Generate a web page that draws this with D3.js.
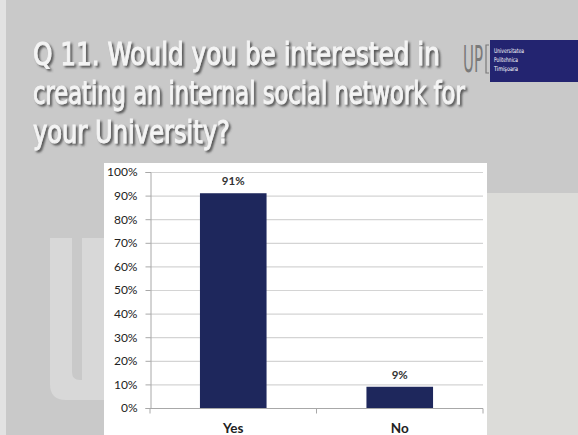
<!DOCTYPE html>
<html>
<head>
<meta charset="utf-8">
<script src="https://cdn.jsdelivr.net/npm/d3@7"></script>
<style>
  html, body { margin: 0; padding: 0; background: #ffffff; }
  svg { display: block; }
</style>
</head>
<body>
<svg id="slide" width="578" height="435"></svg>
<script>
// Survey answers
const categories = ["Yes", "No"];
const shares = [0.91, 0.09];
const valueLabels = ["91%", "9%"];
const tickValues = [0, 0.1, 0.2, 0.3, 0.4, 0.5, 0.6, 0.7, 0.8, 0.9, 1.0];
const titleLines = [
  "Q 11. Would you be interested in",
  "creating an internal social network for",
  "your University?"
];
const logoLines = ["Universitatea", "Politehnica", "Timişoara"];

const svg = d3.select("#slide");
const W = 578, H = 435;

// Squeeze a text horizontally so it spans the given width, anchored at (x, y)
function fitWidth(sel, x, y, width) {
  sel.attr("x", 0).attr("y", 0);
  const natural = sel.node().getComputedTextLength();
  const sx = width / natural;
  sel.attr("transform", `translate(${x},${y}) scale(${sx},1)`);
}

// Slide background
svg.append("rect").attr("x", 0).attr("y", 0).attr("width", W).attr("height", H).attr("fill", "#c9c9c9");
svg.append("rect").attr("x", 0).attr("y", 0).attr("width", 6).attr("height", H).attr("fill", "#e2e2e2");
svg.append("rect").attr("x", 487).attr("y", 193).attr("width", W - 487).attr("height", H - 193).attr("fill", "#dcdcd9");

// Watermark letter on the left
svg.append("path").attr("fill", "#d8d8d8")
  .attr("d", "M50,238 H72 V372 Q72,380 80,380 H82 V238 H104 V400 H66 Q50,400 50,384 Z");

// Title with drop shadow
const defs = svg.append("defs");
const f = defs.append("filter").attr("id", "shadow").attr("x", "-5%").attr("y", "-20%").attr("width", "110%").attr("height", "140%");
f.append("feDropShadow").attr("dx", 2).attr("dy", 2).attr("stdDeviation", 0.9)
  .attr("flood-color", "#4a4a4a").attr("flood-opacity", 0.9);

const titleWidths = [407, 432, 197];
const titleBase = [65, 104, 143];
const titleG = svg.append("g").attr("filter", "url(#shadow)");
titleLines.forEach((line, i) => {
  const t = titleG.append("text")
    .attr("font-family", "'DejaVu Sans Condensed', 'Liberation Sans Narrow', sans-serif")
    .attr("font-size", 32)
    .attr("fill", "#f4f4f4")
    .attr("stroke", "#f4f4f4")
    .attr("stroke-width", 0.9)
    .text(line);
  fitWidth(t, 33, titleBase[i], titleWidths[i]);
});

// University logo
const up = svg.append("text")
  .attr("font-family", "'DejaVu Sans Condensed', sans-serif")
  .attr("font-size", 37).attr("fill", "#7a7a7a")
  .text("UP");
fitWidth(up, 463, 72, 20);
svg.append("path").attr("d", "M489,45 H486 V73 H489").attr("fill", "none").attr("stroke", "#7a7a7a").attr("stroke-width", 1.2);
svg.append("rect").attr("x", 490).attr("y", 40).attr("width", W - 490).attr("height", 42).attr("fill", "#232470");
const logoG = svg.append("g");
logoLines.forEach((line, i) => {
  const t = logoG.append("text")
    .attr("font-family", "'DejaVu Sans Condensed', sans-serif")
    .attr("font-size", 6.5).attr("fill", "#ffffff")
    .text(line);
  fitWidth(t, 494, 53 + i * 9, [30, 24, 24][i]);
});

// Chart box
svg.append("rect").attr("x", 104).attr("y", 163).attr("width", 383).attr("height", H - 163).attr("fill", "#ffffff");

const plot = { left: 150, right: 483, top: 172, bottom: 408 };
const x = d3.scaleBand().domain(categories).range([plot.left, plot.right]).paddingInner(0.6).paddingOuter(0.3);
const y = d3.scaleLinear().domain([0, 1]).range([plot.bottom, plot.top]);

const fontAxis = "Lato, 'Open Sans', sans-serif";

// Gridlines
svg.append("g").selectAll("line").data(tickValues.filter(v => v > 0)).join("line")
  .attr("x1", plot.left).attr("x2", plot.right)
  .attr("y1", d => y(d) + 0.5).attr("y2", d => y(d) + 0.5)
  .attr("stroke", "#d4d4d4").attr("stroke-width", 1.2);

// Y axis
const yAxis = svg.append("g").attr("transform", `translate(${plot.left + 0.5},0)`)
  .call(d3.axisLeft(y).tickValues(tickValues).tickFormat(d3.format(".0%")).tickSize(5).tickPadding(8));
yAxis.select(".domain").attr("stroke", "#a8a8a8");
yAxis.selectAll(".tick line").attr("stroke", "#a8a8a8");
yAxis.selectAll(".tick text").attr("font-family", fontAxis).attr("font-size", 12).attr("fill", "#222");

// X axis line with boundary ticks
const xg = svg.append("g").attr("transform", `translate(0,${plot.bottom + 0.5})`);
xg.append("line").attr("x1", plot.left).attr("x2", plot.right).attr("stroke", "#a8a8a8");
const bounds = [plot.left, (x("Yes") + x.bandwidth() + x("No")) / 2, plot.right];
xg.selectAll("line.b").data(bounds).join("line").attr("class", "b")
  .attr("x1", d => d).attr("x2", d => d).attr("y1", 0).attr("y2", 5).attr("stroke", "#a8a8a8");
xg.selectAll("text").data(categories).join("text")
  .attr("x", d => x(d) + x.bandwidth() / 2)
  .attr("y", 24)
  .attr("text-anchor", "middle")
  .attr("font-family", fontAxis).attr("font-weight", "bold")
  .attr("font-size", 13.5).attr("fill", "#222")
  .text(d => d);

// Bars
svg.append("g").selectAll("rect").data(categories).join("rect")
  .attr("x", d => x(d))
  .attr("y", (d, i) => y(shares[i]))
  .attr("width", x.bandwidth())
  .attr("height", (d, i) => plot.bottom - y(shares[i]))
  .attr("fill", "#1e275c");

// Value labels
svg.append("g").selectAll("text").data(categories).join("text")
  .attr("x", d => x(d) + x.bandwidth() / 2)
  .attr("y", (d, i) => y(shares[i]) - 8)
  .attr("text-anchor", "middle")
  .attr("font-family", fontAxis).attr("font-weight", "bold")
  .attr("font-size", 11.5).attr("fill", "#333")
  .text((d, i) => valueLabels[i]);
</script>
</body>
</html>
